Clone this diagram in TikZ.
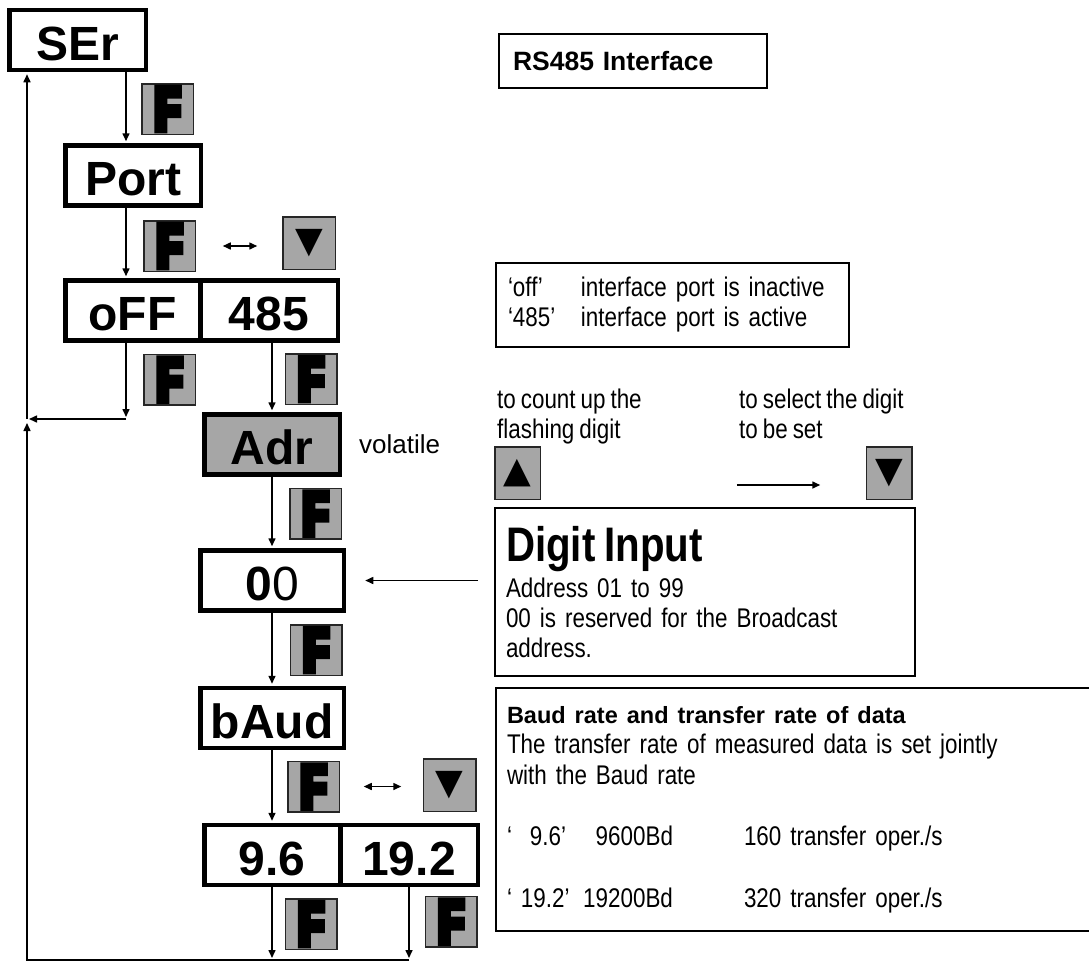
\documentclass[tikz,border=0pt]{standalone}
\usepackage{fontspec}
\setmainfont{Liberation Sans}
\newfontfamily\narrowfont{Liberation Sans}[FakeStretch=0.83,WordSpace=0.8]
\newfontfamily\keyfont{Liberation Sans Bold}[FakeStretch=0.66,FakeBold=12]
\newfontfamily\symfont{DejaVu Sans}
\usetikzlibrary{arrows.meta,positioning}
\definecolor{keygray}{RGB}{166,166,166}
\tikzset{
  disp/.style={draw, line width=4.5pt, minimum width=#1, minimum height=60pt, inner sep=0pt,
    text height=42pt, text depth=2pt, font=\fontsize{48}{50}\selectfont\bfseries},
  fkey/.style={draw=black!85, line width=1.5pt, fill=keygray, minimum width=51.5pt, minimum height=50.5pt,
    inner sep=0pt, font=\keyfont\fontsize{60}{60}\selectfont},
  akey/.style={fkey, minimum width=52.5pt, minimum height=52.5pt, font=\symfont\fontsize{36}{36}\selectfont},
  panel/.style={draw, line width=2pt, anchor=north west, align=left, inner ysep=0pt,
    font=\narrowfont\fontsize{27}{30}\selectfont},
  conn/.style={line width=1.5pt, shorten >=2pt},
}
\begin{document}
\begin{tikzpicture}[x=1pt,y=-1pt,>={Triangle[length=8pt,width=7pt]}]
  \useasboundingbox (0,0) rectangle (1089,961);
  \node (ser)  [disp=136.5pt] at (77.5,40) {SEr};
  \node (port) [disp=135.5pt] at (133,175.5) {Port};
  \node (off)  [disp=134.5pt] at (132.5,310.5) {oFF};
  \node (p485) [disp=137.5pt] at (269,310.5) {485};
  \node (adr)  [disp=135.5pt, fill=keygray] at (272,444.5) {Adr};
  \node (zero) [disp=143.5pt] at (272,580.5) {0\mdseries 0};
  \node (baud) [disp=143.5pt] at (272,718) {bAud};
  \node (b96)  [disp=135.5pt] at (272,855) {9.6};
  \node (b192) [disp=137.5pt] at (409,855) {19.2};
  \node (vol)  [right=17pt of adr, inner sep=0pt, font=\fontsize{26}{30}\selectfont] {volatile};

  \foreach \n/\x/\y in {f1/167.5/109, f2/169.5/246, f3/169.5/379.5, f4/311/379, f5/315.5/513.5,
                        f6/316/650, f7/313.5/786.5, f8/311/924, f9/451/921.5}
    \node (\n) [fkey] at (\x,\y) {F};
  \node (dn1) [akey] at (309,243) {▼};
  \node (dn2) [akey] at (449.5,785) {▼};

  \coordinate (colA) at (126,0);
  \coordinate (join) at (27,419);
  \coordinate (bot) at (27,960);
  \coordinate (loopend) at (27,421);
  \draw[conn,->] (ser.south -| colA) -- (port.north -| colA);
  \draw[conn,->] (port.south -| colA) -- (off.north -| colA);
  \draw[conn,->] (off.south -| colA) -- (join -| colA);
  \draw[conn,->] (join -| colA) -- (join);
  \draw[conn,->] (join) -- (ser.south -| join);
  \draw[conn,->] (p485.south -| adr) -- (adr.north);
  \draw[conn,->] (adr) -- (zero);
  \draw[conn,->] (zero) -- (baud);
  \draw[conn,->] (baud) -- (b96);
  \draw[conn,->] (b96.south) -- (b96.south |- bot);
  \draw[conn,->] (b192.south) -- (b192.south |- bot);
  \draw[conn,->] (b192.south |- bot) -- (bot) -- (loopend);
  \draw[conn,<->,shorten <=26.75pt,shorten >=24.75pt] (f2.east) -- (f2.east -| dn1.west);
  \draw[conn,<->,shorten <=23.75pt,shorten >=21.25pt] (f7.east) -- (f7.east -| dn2.west);

  \node (rs) [panel, font=\fontsize{26.5}{30}\selectfont\bfseries, text width=240pt, inner xsep=14pt,
    minimum height=54pt] at (498,33) {RS485 Interface};
  \node (legend) [panel, text width=329pt, inner xsep=12pt, minimum height=84pt] at (495,262)
    {\makebox[73pt][l]{‘off’}interface port is inactive\\\makebox[73pt][l]{‘485’}interface port is active};
  \node (countup) [anchor=north west, align=left, inner sep=0pt, font=\narrowfont\fontsize{27}{30}\selectfont]
    at (497,389) {to count up the\\flashing digit};
  \node (select) [anchor=north west, align=left, inner sep=0pt, font=\narrowfont\fontsize{27}{30}\selectfont]
    at (739,389) {to select the digit\\to be set};
  \node (upk) [akey, minimum width=45.5pt] at (517.5,473) {▲};
  \node (dn3) [akey, minimum width=45.5pt] at (889,473) {▼};
  \draw[conn,->,shorten <=195.75pt,shorten >=45.25pt] ([yshift=-12pt]upk.east) -- ([yshift=-12pt]dn3.west);

  \node (digit) [panel, text width=398pt, inner xsep=11pt, minimum height=168pt] at (494,507)
    {{\bfseries\fontsize{48.5}{50}\selectfont Digit Input}\\[6pt]Address 01 to 99\\00 is reserved for the Broadcast\\address.};
  \draw[conn,->,shorten <=16pt,shorten >=19.25pt] (digit.west |- zero) -- (zero.east);

  \node (baudinfo) [panel, text width=598pt, inner xsep=11pt, minimum height=243pt,
    font=\narrowfont\fontsize{27}{30.7}\selectfont] at (495,687)
    {{\normalfont\bfseries\fontsize{23.5}{30.7}\selectfont Baud rate and transfer rate of data}\\
     The transfer rate of measured data is set jointly\\with the Baud rate\\[30.7pt]
     \makebox[0pt][l]{‘\ \ 9.6’}\makebox[166pt][r]{9600Bd}\hspace{71pt}160 transfer oper./s\\[30.7pt]
     \makebox[0pt][l]{‘\ 19.2’}\makebox[166pt][r]{19200Bd}\hspace{71pt}320 transfer oper./s};
\end{tikzpicture}
\end{document}
